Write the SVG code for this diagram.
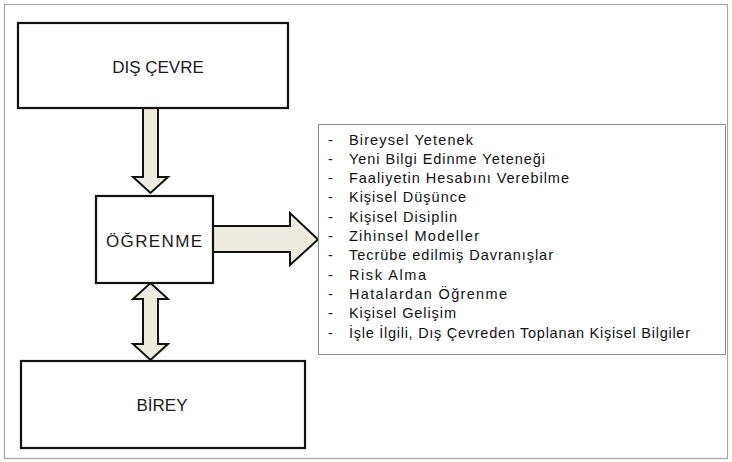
<svg xmlns="http://www.w3.org/2000/svg" width="732" height="462" viewBox="0 0 732 462">
  <style>
    .frame { fill: #ffffff; stroke: #a6a6a6; stroke-width: 1.2; }
    .box { fill: #ffffff; stroke: #111111; stroke-width: 2.2; }
    .arrow { fill: #eeece1; stroke: #111111; stroke-width: 2; stroke-linejoin: miter; }
    .title { font-family: "Liberation Sans", Arial, sans-serif; font-size: 17px; fill: #1a1a1a; text-anchor: middle; }
    .list-box { fill: #ffffff; stroke: #8c8c8c; stroke-width: 1; }
    .item { font-family: "Liberation Sans", Arial, sans-serif; font-size: 14.5px; fill: #111111; }
  </style>

  <rect class="frame" x="4.5" y="4.5" width="723" height="454"/>

  <g id="connectors">
    <!-- DIŞ ÇEVRE down to ÖĞRENME -->
    <path class="arrow" d="M143,108 L158,108 L158,177 L168,177 L150.5,193 L133,177 L143,177 Z"/>
    <!-- ÖĞRENME right to the list -->
    <path class="arrow" d="M213,226 L290,226 L290,213 L318,239.5 L290,265 L290,252 L213,252 Z"/>
    <!-- ÖĞRENME to BİREY, both ways -->
    <path class="arrow" d="M150.5,283 L168,299 L158,299 L158,344 L168,344 L150.5,360 L133,344 L143,344 L143,299 L133,299 Z"/>
  </g>

  <g id="dis-cevre">
    <rect class="box" x="18" y="23" width="270" height="85"/>
    <text class="title" x="158" y="73">DIŞ ÇEVRE</text>
  </g>

  <g id="ogrenme">
    <rect class="box" x="96" y="196" width="117" height="87"/>
    <text class="title" x="154" y="247" textLength="96">ÖĞRENME</text>
  </g>

  <g id="birey">
    <rect class="box" x="21" y="361" width="284" height="87"/>
    <text class="title" x="162" y="411">BİREY</text>
  </g>

  <g id="liste">
    <rect class="list-box" x="318.5" y="124.5" width="407" height="230"/>
    <g class="item">
      <text x="328" y="144.5">-</text><text x="349" y="144.5" textLength="124">Bireysel Yetenek</text>
      <text x="328" y="163.8">-</text><text x="349" y="163.8" textLength="196">Yeni Bilgi Edinme Yeteneği</text>
      <text x="328" y="183.1">-</text><text x="349" y="183.1" textLength="220">Faaliyetin Hesabını Verebilme</text>
      <text x="328" y="202.4">-</text><text x="349" y="202.4" textLength="117">Kişisel Düşünce</text>
      <text x="328" y="221.7">-</text><text x="349" y="221.7" textLength="108">Kişisel Disiplin</text>
      <text x="328" y="241">-</text><text x="349" y="241" textLength="130">Zihinsel Modeller</text>
      <text x="328" y="260.3">-</text><text x="349" y="260.3" textLength="204">Tecrübe edilmiş Davranışlar</text>
      <text x="328" y="279.6">-</text><text x="349" y="279.6" textLength="77">Risk Alma</text>
      <text x="328" y="298.9">-</text><text x="349" y="298.9" textLength="158">Hatalardan Öğrenme</text>
      <text x="328" y="318.2">-</text><text x="349" y="318.2" textLength="107">Kişisel Gelişim</text>
      <text x="328" y="337.5">-</text><text x="349" y="337.5" textLength="341">İşle İlgili, Dış Çevreden Toplanan Kişisel Bilgiler</text>
    </g>
  </g>
</svg>
